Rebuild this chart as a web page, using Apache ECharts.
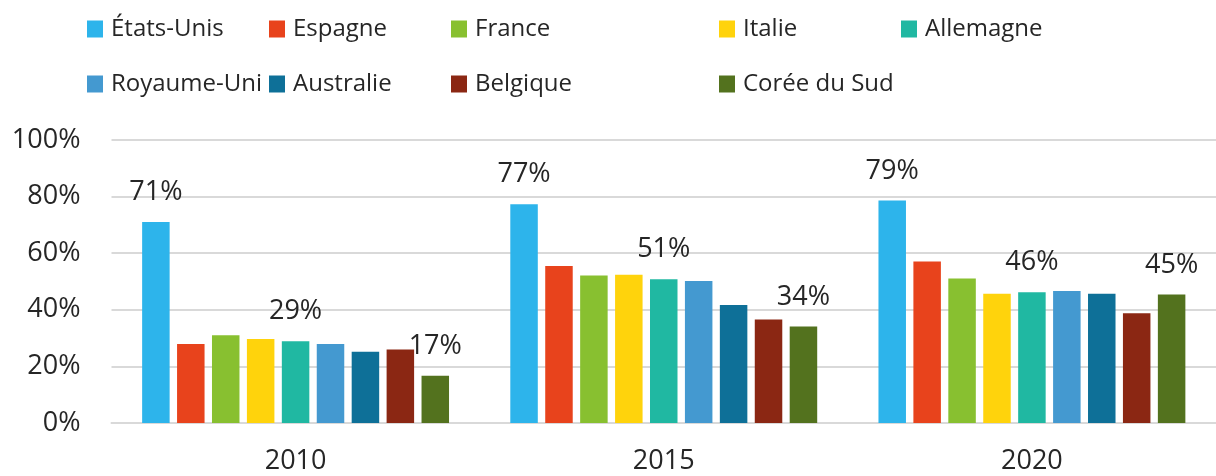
<!DOCTYPE html>
<html>
<head>
<meta charset="utf-8">
<script src="https://cdn.jsdelivr.net/npm/echarts@6/dist/echarts.min.js"></script>
<style>
html,body{margin:0;padding:0;background:#fff;}
#c{width:1216px;height:476px;}
</style>
</head>
<body>
<div id="c"></div>
<script>
const categories = ['2010', '2015', '2020'];
const countries = ['États-Unis', 'Espagne', 'France', 'Italie', 'Allemagne', 'Royaume-Uni', 'Australie', 'Belgique', 'Corée du Sud'];
const etatsUnis = [71.0, 77.3, 78.6];
const espagne = [27.9, 55.5, 57.1];
const france = [31.0, 52.1, 51.1];
const italie = [29.7, 52.4, 45.7];
const allemagne = [28.9, 50.8, 46.2];
const royaumeUni = [27.9, 50.2, 46.6];
const australie = [25.2, 41.7, 45.7];
const belgique = [26.0, 36.6, 38.8];
const coreeDuSud = [16.7, 34.1, 45.4];
const seriesValues = [etatsUnis, espagne, france, italie, allemagne, royaumeUni, australie, belgique, coreeDuSud];
const labeledSeries = ['États-Unis', 'Allemagne', 'Corée du Sud'];
const yTicks = [0, 20, 40, 60, 80, 100];

const colors = ['#2DB4EB', '#E8431C', '#88C030', '#FFD30C', '#20B8A2', '#4499D0', '#0E7098', '#8B2713', '#53721E'];
const FONT = 'Open Sans';
const TXT = '#262626';

const legendPos = [
  [87, 17], [269, 17], [451, 17], [719, 17], [901, 17],
  [87, 72], [269, 72], [451, 72], [719, 72]
];

const chart = echarts.init(document.getElementById('c'), null, {renderer: 'canvas'});
chart.setOption({
  animation: false,
  textStyle: {fontFamily: FONT},
  legend: countries.map((n, i) => ({
    data: [n],
    left: legendPos[i][0],
    top: legendPos[i][1],
    padding: 0,
    icon: 'rect',
    itemWidth: 16,
    itemHeight: 17,
    selectedMode: false,
    textStyle: {fontFamily: FONT, fontSize: 24, color: TXT, padding: [0, 0, 0, 3]}
  })),
  grid: {left: 111.5, right: 0, top: 140, bottom: 53, containLabel: false},
  xAxis: {
    type: 'category',
    data: categories,
    axisLine: {show: true, lineStyle: {color: '#d9d9d9', width: 2}},
    axisTick: {show: false},
    axisLabel: {fontFamily: FONT, fontSize: 27, color: TXT, margin: 25}
  },
  yAxis: {
    type: 'value',
    min: yTicks[0],
    max: yTicks[yTicks.length - 1],
    interval: 20,
    axisLine: {show: false},
    axisTick: {show: false},
    splitLine: {lineStyle: {color: '#d9d9d9', width: 2}},
    axisLabel: {fontFamily: FONT, fontSize: 27, color: TXT, margin: 31, formatter: '{value}%'}
  },
  series: countries.map((n, i) => ({
    name: n,
    type: 'bar',
    data: seriesValues[i],
    barWidth: 27.5,
    barGap: '27%',
    itemStyle: {color: colors[i]},
    label: {
      show: labeledSeries.indexOf(n) >= 0,
      position: 'top',
      distance: 16,
      fontFamily: FONT,
      fontSize: 27,
      color: TXT,
      formatter: p => Math.round(p.value) + '%'
    }
  }))
});
</script>
</body>
</html>
